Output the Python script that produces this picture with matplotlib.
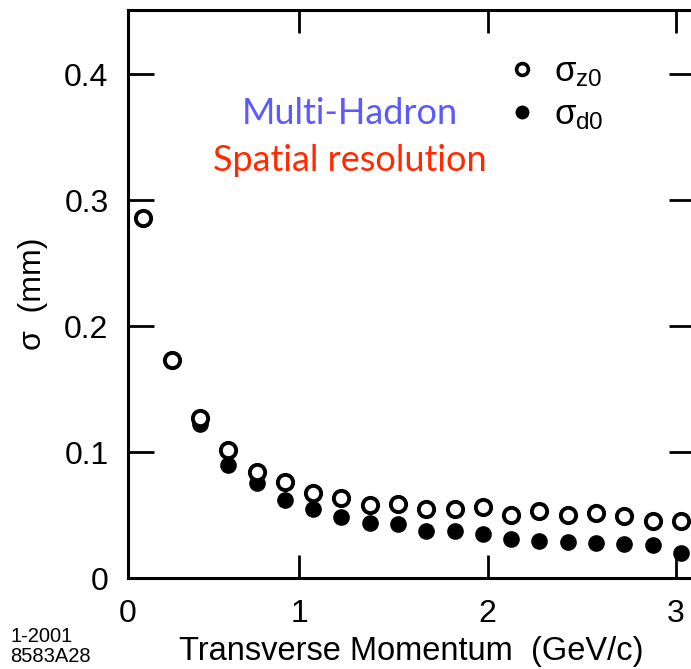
import matplotlib
matplotlib.use("Agg")
import matplotlib.pyplot as plt
from matplotlib.lines import Line2D

# ---- data ----
pt = [0.175, 0.325, 0.475, 0.625, 0.775, 0.925, 1.075, 1.225, 1.375, 1.525,
      1.675, 1.825, 1.975, 2.125, 2.275, 2.425, 2.575, 2.725, 2.875, 3.025]
sigma_z0 = [0.286, 0.173, 0.127, 0.102, 0.084, 0.076, 0.0675, 0.0635, 0.058, 0.0585,
            0.055, 0.055, 0.056, 0.050, 0.053, 0.050, 0.0515, 0.049, 0.045, 0.045]
sigma_d0 = [0.285, 0.172, 0.122, 0.090, 0.0754, 0.062, 0.0548, 0.0484, 0.0435, 0.043,
            0.0373, 0.0373, 0.035, 0.031, 0.0294, 0.0286, 0.0278, 0.027, 0.026, 0.020]
xticks = [1, 2, 3]
xticklabels = ["0", "1", "2", "3"]
yticks = [0.1, 0.2, 0.3, 0.4]
yticklabels = ["0", "0.1", "0.2", "0.3", "0.4"]

XMIN, XMAX = 0.093, 3.10
YMIN, YMAX = 0.0, 0.451

plt.rcParams['font.family'] = ['Liberation Sans', 'DejaVu Sans']
plt.rcParams['mathtext.fontset'] = 'custom'
plt.rcParams['mathtext.rm'] = 'Liberation Sans'
plt.rcParams['mathtext.it'] = 'Liberation Sans'

W, H = 691, 669
fig = plt.figure(figsize=(W / 100, H / 100), dpi=100)
L, R, B, T = 128, 695, 578, 10
ax = fig.add_axes([L / W, 1 - B / H, (R - L) / W, (B - T) / H])

ax.plot(pt, sigma_d0, 'o', ms=12, mfc='black', mec='black', mew=0, ls='none',
        label=r'$\sigma_{\rm d0}$', zorder=3)
ax.plot(pt, sigma_z0, 'o', ms=11, mfc='white', mec='black', mew=2.8, ls='none',
        label=r'$\sigma_{\rm z0}$', zorder=4)

ax.set_xlim(XMIN, XMAX)
ax.set_ylim(YMIN, YMAX)

ax.set_xticks([XMIN] + xticks)
ax.set_xticklabels(xticklabels)
ax.set_yticks([YMIN] + yticks)
ax.set_yticklabels(yticklabels)

for s in ax.spines.values():
    s.set_linewidth(2.2)
ax.tick_params(axis='both', direction='in', width=2.0, labelsize=23,
               top=True, right=True)
ax.tick_params(axis='x', length=16.5, pad=15)
ax.tick_params(axis='y', length=18.5, pad=14)

ax.set_xlabel('Transverse Momentum  (GeV/c)', fontsize=23.5, labelpad=5)
ax.set_ylabel('σ  (mm)', fontsize=23, labelpad=12)

# annotation text
ax.text(0.392, 0.817, 'Multi-Hadron', transform=ax.transAxes, color='#5a5aff',
        fontsize=26, family=['Lato', 'DejaVu Sans'], ha='center', va='center')
ax.text(0.392, 0.735, 'Spatial resolution', transform=ax.transAxes, color='#ff2a00',
        fontsize=26, family=['Lato', 'DejaVu Sans'], ha='center', va='center')

# legend
h_z = Line2D([], [], marker='o', ls='none', ms=8.5, mfc='white', mec='black', mew=2.6)
h_d = Line2D([], [], marker='o', ls='none', ms=10, mfc='black', mec='black', mew=0)
leg = ax.legend([h_z, h_d], [r'$\sigma_{\rm z0}$', r'$\sigma_{\rm d0}$'],
                loc='upper left', bbox_to_anchor=(0.61, 0.975), frameon=False,
                fontsize=25, handletextpad=0.4, labelspacing=0.25, handlelength=1.0)

fig.text(10 / W, 1 - 636 / H, '1-2001', fontsize=14.5, ha='left', va='center')
fig.text(10 / W, 1 - 657 / H, '8583A28', fontsize=14.5, ha='left', va='center')

fig.savefig('out.png', dpi=100)
